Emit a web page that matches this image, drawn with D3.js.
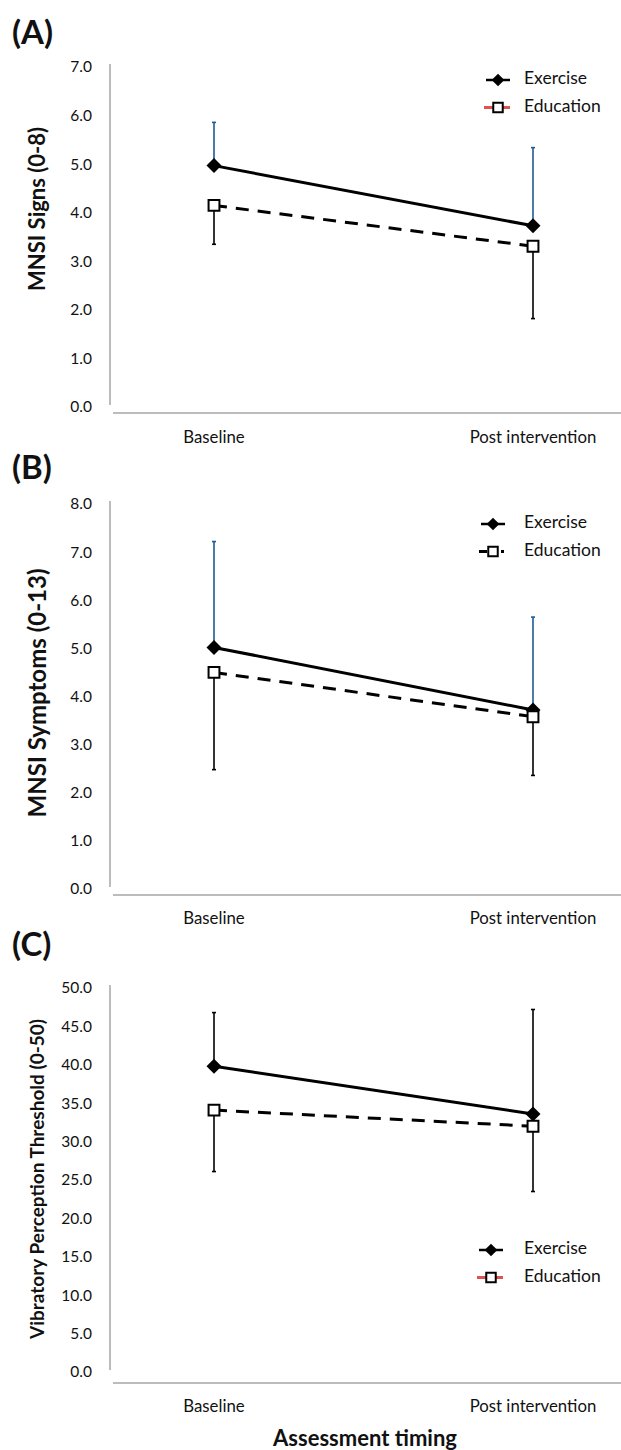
<!DOCTYPE html>
<html lang="en">
<head>
<meta charset="UTF-8">
<title>MNSI and VPT by group</title>
<script src="https://cdn.jsdelivr.net/npm/d3@7"></script>
<style>
    html, body {
        margin: 0;
        padding: 0;
        background: #fff;
    }
    svg text {
        font-family: Lato, "Open Sans", sans-serif;
        fill: #111;
    }
    .tick text {
        font-size: 15.5px;
    }
    .cat {
        font-size: 16.8px;
    }
    .ytitle, .xtitle {
        font-weight: bold;
    }
    .xtitle {
        font-size: 22px;
    }
    .plabel {
        font-weight: bold;
        font-size: 33px;
    }
    .legend text {
        font-size: 17.5px;
    }
</style>
</head>
<body>
<svg id="chart" width="621" height="1450"></svg>
<script>
    // ---- data ----
    var categories = ["Baseline", "Post intervention"];
    var panelLabels = ["(A)", "(B)", "(C)"];
    var yTitles = ["MNSI Signs (0-8)", "MNSI Symptoms (0-13)", "Vibratory Perception Threshold (0-50)"];
    var yMaxes = [7, 8, 50];
    var yStep = [1, 1, 5];
    var seriesNames = ["Exercise", "Education"];

    // means and SD per panel (A, B, C), [baseline, post]
    var exerciseA = [4.97, 3.73],  exerciseErrA = [0.89, 1.61];
    var educationA = [4.15, 3.31], educationErrA = [0.80, 1.49];
    var exerciseB = [5.02, 3.72],  exerciseErrB = [2.20, 1.93];
    var educationB = [4.50, 3.58], educationErrB = [2.02, 1.22];
    var exerciseC = [39.8, 33.6],  exerciseErrC = [7.0, 13.6];
    var educationC = [34.1, 32.0], educationErrC = [8.0, 8.5];

    var panels = [
        {ex: exerciseA, exErr: exerciseErrA, ed: educationA, edErr: educationErrA},
        {ex: exerciseB, exErr: exerciseErrB, ed: educationB, edErr: educationErrB},
        {ex: exerciseC, exErr: exerciseErrC, ed: educationC, edErr: educationErrC}
    ];

    // ---- layout (pixels) ----
    var layout = [
        {top: 67,  bottom: 407,  axisY: 413,  catY: 439,  labelY: 44,  legX: 498, legY: 80,   titleY: 209,  titleSize: 22, upColor: "#1f5b97", legLine: "#e05252", legDash: null},
        {top: 504, bottom: 889,  axisY: 895,  catY: 920,  labelY: 479, legX: 493, legY: 524,  titleY: 693,  titleSize: 24, upColor: "#1f5b97", legLine: "#000",    legDash: "8,14,3"},
        {top: 988, bottom: 1372, axisY: 1383, catY: 1408, labelY: 956, legX: 491, legY: 1250, titleY: 1179, titleSize: 19, upColor: "#000",    legLine: "#e05252", legDash: null}
    ];

    var svg = d3.select("#chart");

    var x = d3.scalePoint().domain(categories).range([214, 533]);

    var diamond = d3.symbol().type(d3.symbolSquare).size(112);
    var square = d3.symbol().type(d3.symbolSquare).size(118);

    panels.forEach(function (p, i) {
        var L = layout[i];
        var g = svg.append("g");

        var y = d3.scaleLinear().domain([0, yMaxes[i]]).range([L.bottom, L.top]);

        // panel letter
        g.append("text")
            .attr("class", "plabel")
            .attr("x", 12)
            .attr("y", L.labelY)
            .text(panelLabels[i]);

        // y ticks
        g.append("g")
            .attr("transform", "translate(92,0)")
            .call(d3.axisLeft(y)
                .tickValues(d3.range(0, yMaxes[i] + 0.001, yStep[i]))
                .tickFormat(d3.format(".1f"))
                .tickSize(0)
                .tickPadding(0))
            .call(a => a.select(".domain").remove());

        // axis lines
        g.append("line")
            .attr("x1", 110).attr("x2", 110)
            .attr("y1", L.top - 3).attr("y2", L.bottom - 2)
            .attr("stroke", "#a6a6a6").attr("stroke-width", 1.5);
        g.append("line")
            .attr("x1", 113).attr("x2", 621)
            .attr("y1", L.axisY).attr("y2", L.axisY)
            .attr("stroke", "#a6a6a6").attr("stroke-width", 1.5);

        // category labels
        g.selectAll(".cat")
            .data(categories)
            .enter().append("text")
            .attr("class", "cat")
            .attr("x", d => x(d))
            .attr("y", L.catY)
            .attr("text-anchor", "middle")
            .attr("dominant-baseline", "middle")
            .text(d => d);

        // y title
        g.append("text")
            .attr("class", "ytitle")
            .attr("transform", "translate(36," + L.titleY + ") rotate(-90)")
            .attr("text-anchor", "middle")
            .attr("dominant-baseline", "central")
            .style("font-size", L.titleSize + "px")
            .text(yTitles[i]);

        // error bars: exercise upward, education downward
        function errBars(vals, errs, dir, color) {
            var eb = g.append("g").attr("stroke", color).attr("stroke-width", 1.6);
            categories.forEach(function (c, k) {
                var y1 = y(vals[k]), y2 = y(vals[k] + dir * errs[k]);
                eb.append("line").attr("x1", x(c)).attr("x2", x(c)).attr("y1", y1).attr("y2", y2);
                eb.append("line").attr("x1", x(c) - 2).attr("x2", x(c) + 2).attr("y1", y2).attr("y2", y2);
            });
        }
        errBars(p.ex, p.exErr, 1, L.upColor);
        errBars(p.ed, p.edErr, -1, "#000");

        var line = d3.line().x((d, k) => x(categories[k])).y(d => y(d));

        g.append("path")
            .attr("d", line(p.ed))
            .attr("fill", "none")
            .attr("stroke", "#000")
            .attr("stroke-width", 3)
            .attr("stroke-dasharray", "13,9");
        g.append("path")
            .attr("d", line(p.ex))
            .attr("fill", "none")
            .attr("stroke", "#000")
            .attr("stroke-width", 3);

        g.selectAll(".ex")
            .data(p.ex)
            .enter().append("path")
            .attr("transform", (d, k) => "translate(" + x(categories[k]) + "," + y(d) + ") rotate(45)")
            .attr("d", diamond)
            .attr("fill", "#000");

        g.selectAll(".ed")
            .data(p.ed)
            .enter().append("path")
            .attr("transform", (d, k) => "translate(" + x(categories[k]) + "," + y(d) + ")")
            .attr("d", square)
            .attr("fill", "#fff")
            .attr("stroke", "#000")
            .attr("stroke-width", 2);

        // legend
        var lg = g.append("g").attr("class", "legend");
        lg.append("line")
            .attr("x1", L.legX - 12).attr("x2", L.legX + 12)
            .attr("y1", L.legY).attr("y2", L.legY)
            .attr("stroke", "#000").attr("stroke-width", 2.5);
        lg.append("path")
            .attr("transform", "translate(" + L.legX + "," + L.legY + ") rotate(45)")
            .attr("d", d3.symbol().type(d3.symbolSquare).size(80))
            .attr("fill", "#000");
        lg.append("line")
            .attr("x1", L.legX - 14).attr("x2", L.legX + 12)
            .attr("y1", L.legY + 27.5).attr("y2", L.legY + 27.5)
            .attr("stroke", L.legLine).attr("stroke-width", 3)
            .attr("stroke-dasharray", L.legDash);
        lg.append("path")
            .attr("transform", "translate(" + L.legX + "," + (L.legY + 27.5) + ")")
            .attr("d", d3.symbol().type(d3.symbolSquare).size(90))
            .attr("fill", "#fff").attr("stroke", "#000").attr("stroke-width", 2);
        lg.selectAll("text")
            .data(seriesNames)
            .enter().append("text")
            .attr("x", 524)
            .attr("y", (d, k) => L.legY + k * 27.5)
            .attr("dominant-baseline", "middle")
            .text(d => d);
    });

    svg.append("text")
        .attr("class", "xtitle")
        .attr("x", 365)
        .attr("y", 1446)
        .attr("text-anchor", "middle")
        .text("Assessment timing");
</script>
</body>
</html>
